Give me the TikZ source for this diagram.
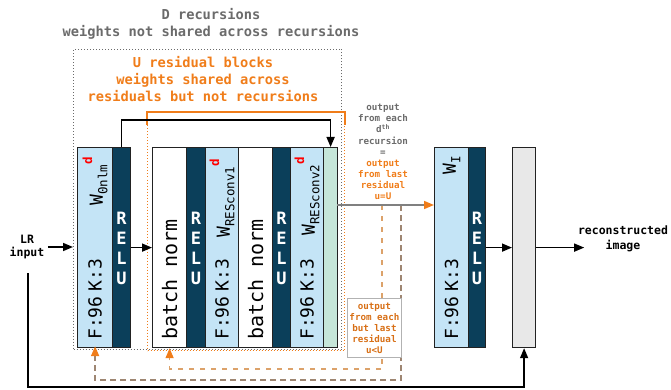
\documentclass[tikz,border=0pt]{standalone}
\usepackage{fontspec}
\setmainfont{DejaVu Sans Mono}
\usetikzlibrary{arrows.meta,calc}
\definecolor{lblue}{HTML}{C4E4F6}
\definecolor{dteal}{HTML}{0B3F5A}
\definecolor{lgreen}{HTML}{C6E6D9}
\definecolor{lgray}{HTML}{E8E8E8}
\definecolor{edge}{HTML}{222222}
\definecolor{orng}{HTML}{F07D1A}
\definecolor{ttl}{HTML}{6B6B6B}
\definecolor{brwn}{HTML}{9E8672}
\definecolor{tan}{HTML}{DCA26A}
\definecolor{lnk}{HTML}{808080}
\newcommand\wlab[2]{W\kern-0.5pt\raisebox{-0.45ex}{\fontsize{12.5}{12.5}\selectfont #1}\raisebox{1.1ex}{\fontsize{12.5}{12.5}\selectfont\bfseries\color{red}#2}}
\tikzset{
  blk/.style={draw=edge, line width=1.2pt, inner sep=0pt, minimum height=200pt, anchor=north west},
  wblk/.style={blk, fill=lblue, minimum width=#1},
  rblk/.style={blk, fill=dteal, minimum width=#1},
  fk/.style={rotate=90, anchor=west, inner sep=0pt, font=\fontsize{18}{18}\selectfont},
  wl/.style={rotate=90, anchor=east, inner sep=0pt, font=\fontsize{18}{18}\selectfont},
  bnl/.style={rotate=90, anchor=west, inner sep=0pt, font=\fontsize{20}{20}\selectfont},
  relul/.style={text=white, align=center, inner sep=0pt, font=\fontsize{17}{20}\selectfont\bfseries},
  arr/.style={line width=1.5pt, draw=black, -{Triangle[length=10pt,width=8pt]}},
  oarr/.style={-{Triangle[length=10pt,width=8pt,color=orng,fill=orng]}},
}
\begin{document}
\begin{tikzpicture}[x=1pt,y=-1pt]
\useasboundingbox (0,0) rectangle (671,390);
% titles
\node[text=ttl, align=center, font=\fontsize{13.7}{17}\selectfont\bfseries] (t1) at (211,24) {D recursions\\weights not shared across recursions};
\node[text=orng, align=center, font=\fontsize{13.7}{17}\selectfont\bfseries] (t2) at (203,79) {U residual blocks\\weights shared across\\residuals but not recursions};
% outer boxes
\node[draw=ttl, dotted, line width=1pt, inner sep=0pt, minimum width=268pt, minimum height=300pt, anchor=north west] (outer) at (73,49) {};
\node[draw=orng, dotted, line width=1pt, inner sep=0pt, minimum width=197pt, minimum height=238pt, anchor=north west] (inner) at (147,112) {};
\draw[orng, line width=1.2pt] ($(inner.north west)+(0,13)$) -- (inner.north west) -- (inner.north east) -- ($(inner.north east)+(0,13)$);
% blocks
\node[wblk=35pt] (w0) at (77,147) {};
\node[rblk=18pt] (r1) at (112,147) {};
\node[blk, fill=white, minimum width=34pt] (bn1) at (152,147) {};
\node[rblk=19pt] (r2) at (186,147) {};
\node[wblk=33pt] (wr1) at (205,147) {};
\node[blk, fill=white, minimum width=34pt] (bn2) at (238,147) {};
\node[rblk=18pt] (r3) at (272,147) {};
\node[wblk=33pt] (wr2) at (290,147) {};
\node[blk, fill=lgreen, minimum width=14pt] (gr) at (323,147) {};
\node[wblk=34pt] (wi) at (434,147) {};
\node[rblk=17pt] (r4) at (468,147) {};
\node[blk, fill=lgray, minimum width=23pt] (gy) at (512,147) {};
% block labels
\node[fk] at (w0.center |- 0,340) {F:96\hspace{5pt}K:3};
\node[fk] at (wr1.center |- 0,340) {F:96\hspace{5pt}K:3};
\node[fk] at (wr2.center |- 0,340) {F:96\hspace{5pt}K:3};
\node[fk] at (wi.center |- 0,340) {F:96\hspace{5pt}K:3};
\node[wl] at (w0.center |- 0,157) {\wlab{0nlm}{d}};
\node[wl] at (wr1.center |- 0,159) {\wlab{RESconv1}{d}};
\node[wl] at (wr2.center |- 0,157) {\wlab{RESconv2}{d}};
\node[wl] at (wi.center |- 0,156) {\wlab{I}{}};
\node[bnl] at (bn1.center |- 0,340) {batch norm};
\node[bnl] at (bn2.center |- 0,340) {batch norm};
\foreach \r in {r1,r2,r3,r4} \node[relul] at ($(\r.center)+(0,1)$) {R\\E\\L\\U};
% texts
\node[align=center, font=\fontsize{11.5}{12.5}\selectfont\bfseries] (lr) at (27,247) {LR\\input};
\node[align=center, font=\fontsize{11.5}{14.5}\selectfont\bfseries] (rec) at (623,239) {reconstructed\\image};
\node[align=center, font=\fontsize{9.2}{11.1}\selectfont\bfseries, text=ttl] (ann) at (383,152) {output\\from each\\d\textsuperscript{th}\\recursion\\=\\\textcolor{orng}{output}\\\textcolor{orng}{from last}\\\textcolor{orng}{residual}\\\textcolor{orng}{u=U}};
% connectors
\draw[arr] (r1.north) -- ++(0,-27) -| (gr.north);
\draw[arr] (r1.east) -- (bn1.west);
\draw[arr] (lr.east) -- (lr.east -| outer.west);
\draw[arr] (r4.east) -- (gy.west);
\draw[arr] (gy.east) -- ++(48,0);
\coordinate (lb) at (28,387);
\draw[arr] (28,273) -- (lb) -| (gy.south);
\coordinate (o1) at (337,205);
\coordinate (b1) at (382,205);
\coordinate (b2) at (401,205);
\draw[tan, line width=1.4pt, dash pattern=on 5pt off 6pt, oarr] (b1) -- (382,369) -| (bn1.south);
\draw[brwn, line width=1.8pt, dash pattern=on 6pt off 4pt, oarr, shorten >=-2pt] (b2) -- (401,380) -| (w0.south);
\draw[lnk, line width=1.5pt, oarr] (o1) -- (o1 -| wi.west);
\node[draw=black!30, fill=white, line width=0.8pt, inner sep=0pt, minimum width=54pt, minimum height=59pt, anchor=north west, align=center, text=orng!90!black, font=\fontsize{9.2}{11}\selectfont\bfseries] (ann2) at (347,298) {output\\from each\\but last\\residual\\u<U};
\end{tikzpicture}
\end{document}
